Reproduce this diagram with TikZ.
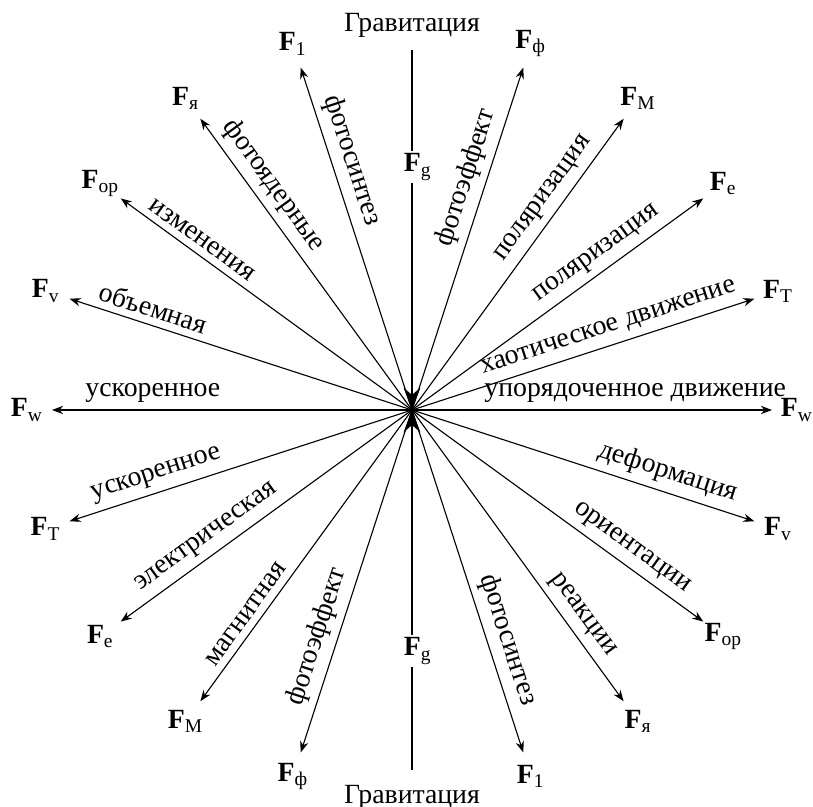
\documentclass[tikz,border=0pt]{standalone}
\usepackage{fontspec}
\setmainfont{Liberation Serif}
\usetikzlibrary{arrows.meta}
\tikzset{
  force/.style={-{Stealth[length=4pt,width=3pt]},line width=0.4pt},
  gravline/.style={-{Stealth[length=8pt,width=6pt,inset=2.6pt]},line width=1pt},
  forcelbl/.style={inner sep=1pt,font=\fontsize{10}{12}\selectfont},
  fgbox/.style={fill=white,inner sep=1pt,font=\fontsize{10}{12}\selectfont},
  along/.style={sloped,above,inner sep=2.5pt,font=\fontsize{10}{12}\selectfont}
}
\newcommand{\Fsub}[1]{\textbf{F}\textsubscript{#1}}

\begin{document}
\begin{tikzpicture}[x=0.36pt,y=0.36pt]
  \useasboundingbox (-412,-396) rectangle (401,410);
  \coordinate (c) at (0,0);
  % gravitation, top and bottom
  \coordinate (gtop) at (90:360);
  \coordinate (gbot) at (270:360);
  \draw[gravline] (gtop) -- (c);
  \draw[gravline] (gbot) -- (c);
  \node[fgbox] (fgtop) at (6,243) {\Fsub{g}};
  \node[fgbox] (fgbot) at (6,-241) {\Fsub{g}};
  \node[forcelbl] (gravtop) at (90:385) {Гравитация};
  \node[forcelbl] (gravbot) at (270:387) {Гравитация};
  % right half
  \coordinate (t000) at (0:360);
  \coordinate (t018) at (18:360);
  \coordinate (t036) at (36:360);
  \coordinate (t054) at (54:360);
  \coordinate (t072) at (72:360);
  \coordinate (t288) at (288:360);
  \coordinate (t306) at (306:360);
  \coordinate (t324) at (324:360);
  \coordinate (t342) at (342:360);
  \draw[force] (c) -- node[along,pos=0.62] {упорядоченное движение} (t000);
  \draw[force] (c) -- node[along,pos=0.59] {хаотическое движение} (t018);
  \draw[force] (c) -- node[along,pos=0.67] {поляризация} (t036);
  \draw[force] (c) -- node[along,pos=0.69] {поляризация} (t054);
  \draw[force] (c) -- node[along,pos=0.66] {фотоэффект} (t072);
  \draw[force] (c) -- node[along,pos=0.69] {фотосинтез} (t288);
  \draw[force] (c) -- node[along,pos=0.74] {реакции} (t306);
  \draw[force] (c) -- node[along,pos=0.72] {ориентации} (t324);
  \draw[force] (c) -- node[along,pos=0.73] {деформация} (t342);
  \node[forcelbl] (fw1) at (0:385) {\Fsub{w}};
  \node[forcelbl] (ft1) at (18:385) {\Fsub{Т}};
  \node[forcelbl] (fe1) at (36:385) {\Fsub{е}};
  \node[forcelbl] (fm1) at (54:385) {\Fsub{М}};
  \node[forcelbl] (fph1) at (72:385) {\Fsub{ф}};
  \node[forcelbl] (fl2) at (288:385) {\Fsub{1}};
  \node[forcelbl] (fya2) at (306:385) {\Fsub{я}};
  \node[forcelbl] (for2) at (324:385) {\Fsub{ор}};
  \node[forcelbl] (fv2) at (342:385) {\Fsub{v}};
  % left half
  \coordinate (t108) at (108:360);
  \coordinate (t126) at (126:360);
  \coordinate (t144) at (144:360);
  \coordinate (t162) at (162:360);
  \coordinate (t180) at (180:360);
  \coordinate (t198) at (198:360);
  \coordinate (t216) at (216:360);
  \coordinate (t234) at (234:360);
  \coordinate (t252) at (252:360);
  \draw[force] (c) -- node[along,pos=0.71] {фотосинтез} (t108);
  \draw[force] (c) -- node[along,pos=0.73] {фотоядерные} (t126);
  \draw[force] (c) -- node[along,pos=0.75] {изменения} (t144);
  \draw[force] (c) -- node[along,pos=0.77] {объемная} (t162);
  \draw[force] (c) -- node[along,pos=0.72] {ускоренное} (t180);
  \draw[force] (c) -- node[along,pos=0.73] {ускоренное} (t198);
  \draw[force] (c) -- node[along,pos=0.67] {электрическая} (t216);
  \draw[force] (c) -- node[along,pos=0.73] {магнитная} (t234);
  \draw[force] (c) -- node[along,pos=0.68] {фотоэффект} (t252);
  \node[forcelbl] (fl1) at (108:385) {\Fsub{1}};
  \node[forcelbl] (fya1) at (126:385) {\Fsub{я}};
  \node[forcelbl] (for1) at (144:385) {\Fsub{ор}};
  \node[forcelbl] (fv1) at (162:385) {\Fsub{v}};
  \node[forcelbl] (fw2) at (180:385) {\Fsub{w}};
  \node[forcelbl] (ft2) at (198:385) {\Fsub{Т}};
  \node[forcelbl] (fe2) at (216:385) {\Fsub{е}};
  \node[forcelbl] (fm2) at (234:385) {\Fsub{М}};
  \node[forcelbl] (fph2) at (252:385) {\Fsub{ф}};
\end{tikzpicture}
\end{document}
